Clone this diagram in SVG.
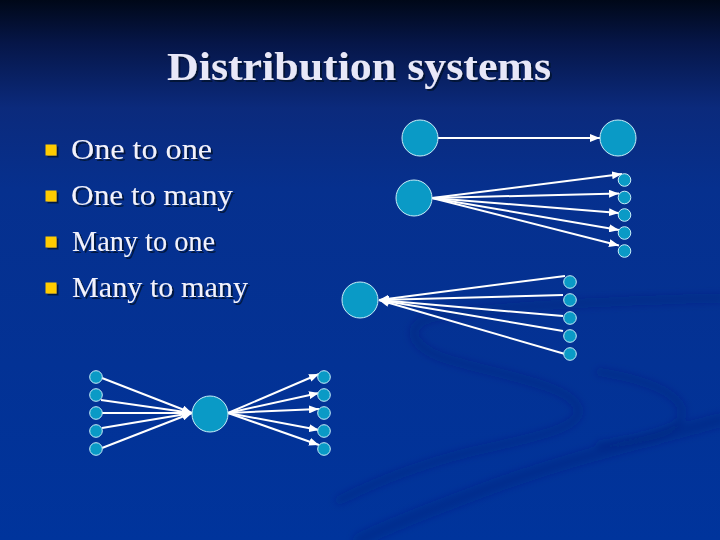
<svg xmlns="http://www.w3.org/2000/svg" width="720" height="540" viewBox="0 0 720 540">
<defs>
<linearGradient id="bg" x1="0" y1="0" x2="0" y2="1">
<stop offset="0" stop-color="#000818"/>
<stop offset="0.08" stop-color="#061648"/>
<stop offset="0.2" stop-color="#0b2a7c"/>
<stop offset="0.35" stop-color="#06308e"/>
<stop offset="1" stop-color="#00349c"/>
</linearGradient>
<filter id="blur" x="-10%" y="-10%" width="120%" height="120%"><feGaussianBlur stdDeviation="3.5"/></filter>
<filter id="shadow" x="-5%" y="-20%" width="110%" height="140%"><feDropShadow dx="2" dy="2" stdDeviation="0.6" flood-color="#000a28" flood-opacity="0.75"/></filter>
<marker id="arrow" viewBox="0 0 10 8" markerUnits="userSpaceOnUse" markerWidth="10" markerHeight="8" refX="10" refY="4" orient="auto">
<path d="M0,0 L10,4 L0,8 z" fill="#ffffff"/>
</marker>
<style>
.title{font-family:"Liberation Serif","Times New Roman",serif;font-weight:bold;font-size:40px;fill:#e8e8f8;}
.item{font-family:"Liberation Serif","Times New Roman",serif;font-size:29px;fill:#f2f2fc;}
.bullet{fill:#ffcc00;}
.big{fill:#0a9ac6;stroke:#c8eef8;stroke-width:1;}
.small{fill:#0a9ac6;stroke:#c8eef8;stroke-width:1;}
.conn line{stroke:#ffffff;stroke-width:2;marker-end:url(#arrow);}
.swirl{fill:none;stroke:#002676;stroke-linecap:round;opacity:0.3;}
</style>
</defs>
<rect x="0" y="0" width="720" height="540" fill="url(#bg)"/>
<g id="background-swirl" filter="url(#blur)">
<path class="swirl" stroke-width="9" d="M720,298 C650,300 480,305 430,318 C400,328 415,350 450,360 C500,375 570,385 578,408 C585,430 520,440 470,452 C430,462 390,475 340,500"/>
<path class="swirl" stroke-width="14" d="M720,420 C650,440 560,460 470,495 C430,510 390,525 360,540"/>
<path class="swirl" stroke-width="8" d="M600,372 C660,382 690,400 680,420 C670,435 640,440 600,445"/>
</g>
<g id="title" filter="url(#shadow)">
<text class="title" x="167" y="80" textLength="384" lengthAdjust="spacingAndGlyphs">Distribution systems</text>
</g>
<g id="bullets" filter="url(#shadow)">
<rect class="bullet" x="45.5" y="144.5" width="11" height="11"/>
<rect class="bullet" x="45.5" y="190.5" width="11" height="11"/>
<rect class="bullet" x="45.5" y="236.5" width="11" height="11"/>
<rect class="bullet" x="45.5" y="282.5" width="11" height="11"/>
<text class="item" x="71" y="159" textLength="141" lengthAdjust="spacingAndGlyphs">One to one</text>
<text class="item" x="71" y="205" textLength="162" lengthAdjust="spacingAndGlyphs">One to many</text>
<text class="item" x="72" y="251" textLength="143" lengthAdjust="spacingAndGlyphs">Many to one</text>
<text class="item" x="72" y="297" textLength="176" lengthAdjust="spacingAndGlyphs">Many to many</text>
</g>
<g id="connectors" class="conn">
<line x1="438" y1="138" x2="600" y2="138"/>
<line x1="432" y1="198" x2="622" y2="174"/>
<line x1="432" y1="198" x2="619" y2="193.5"/>
<line x1="432" y1="198" x2="619" y2="213"/>
<line x1="432" y1="198" x2="619" y2="230"/>
<line x1="432" y1="198" x2="619" y2="245.5"/>
<line x1="565" y1="276" x2="379" y2="300"/>
<line x1="563" y1="295" x2="379" y2="300"/>
<line x1="563" y1="316" x2="379" y2="300"/>
<line x1="563" y1="331" x2="379" y2="300"/>
<line x1="565" y1="354" x2="379" y2="300"/>
<line x1="102" y1="378" x2="192" y2="413"/>
<line x1="101" y1="400" x2="192" y2="413"/>
<line x1="102" y1="413" x2="192" y2="413"/>
<line x1="102" y1="428" x2="192" y2="413"/>
<line x1="102" y1="448" x2="192" y2="413"/>
<line x1="228" y1="413" x2="319" y2="374"/>
<line x1="228" y1="413" x2="319" y2="393"/>
<line x1="228" y1="413" x2="319" y2="409"/>
<line x1="228" y1="413" x2="319" y2="430"/>
<line x1="228" y1="413" x2="319" y2="445"/>
</g>
<g id="one-to-one">
<circle class="big" cx="420" cy="138" r="18"/>
<circle class="big" cx="618" cy="138" r="18"/>
</g>
<g id="one-to-many">
<circle class="big" cx="414" cy="198" r="18"/>
<circle class="small" cx="624.5" cy="180" r="6.3"/>
<circle class="small" cx="624.5" cy="197.5" r="6.3"/>
<circle class="small" cx="624.5" cy="215" r="6.3"/>
<circle class="small" cx="624.5" cy="233" r="6.3"/>
<circle class="small" cx="624.5" cy="251" r="6.3"/>
</g>
<g id="many-to-one">
<circle class="big" cx="360" cy="300" r="18"/>
<circle class="small" cx="570" cy="282" r="6.3"/>
<circle class="small" cx="570" cy="300" r="6.3"/>
<circle class="small" cx="570" cy="318" r="6.3"/>
<circle class="small" cx="570" cy="336" r="6.3"/>
<circle class="small" cx="570" cy="354" r="6.3"/>
</g>
<g id="many-to-many">
<circle class="big" cx="210" cy="414" r="18"/>
<circle class="small" cx="96" cy="377" r="6.3"/>
<circle class="small" cx="96" cy="395" r="6.3"/>
<circle class="small" cx="96" cy="413" r="6.3"/>
<circle class="small" cx="96" cy="431" r="6.3"/>
<circle class="small" cx="96" cy="449" r="6.3"/>
<circle class="small" cx="324" cy="377" r="6.3"/>
<circle class="small" cx="324" cy="395" r="6.3"/>
<circle class="small" cx="324" cy="413" r="6.3"/>
<circle class="small" cx="324" cy="431" r="6.3"/>
<circle class="small" cx="324" cy="449" r="6.3"/>
</g>
</svg>
